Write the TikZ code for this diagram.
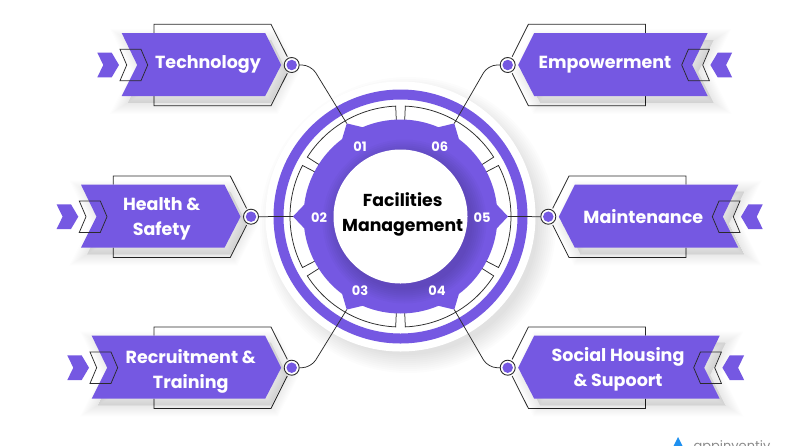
\documentclass[tikz,border=0pt]{standalone}
\usepackage{fontspec}
\setmainfont{Poppins}
\usetikzlibrary{calc,positioning}
\definecolor{fmPurple}{HTML}{7558E2}
\definecolor{fmLine}{HTML}{2B2B2B}
\definecolor{fmBlue}{HTML}{1E90F0}
\definecolor{fmGray}{HTML}{8A8A8A}

\begin{document}
\begin{tikzpicture}[x=1pt,y=-1pt,
  tagbody/.style={insert path={(-170-\e,-32) -- (-26.5,-32) -- (-10.5,0) -- (-26.5,31)
                  -- (-170-\e,31) -- (-154.5-\e,0) -- cycle}},
  tagback/.style={draw=fmLine,line width=0.8pt,line join=miter},
  chev/.style={draw=fmLine,line width=0.75pt},
  solidchev/.style={fill=fmPurple},
  dotring/.style={circle,draw=fmLine,line width=0.9pt,fill=white,minimum size=15pt,inner sep=0pt},
  dotcore/.style={circle,fill=fmPurple,minimum size=10.5pt,inner sep=0pt},
  tagtext/.style={text=white,font=\fontsize{17.5}{25}\selectfont\bfseries,align=center},
  numtext/.style={text=white,font=\fontsize{13}{15}\selectfont\bfseries},
  hubtext/.style={text=black,font=\fontsize{17.3}{24.5}\selectfont\bfseries,align=center},
  wire/.style={draw=fmLine,line width=0.75pt,rounded corners=9pt}]

\useasboundingbox (0,0) rectangle (800,445);
\fill[white] (0,0) rectangle (800,445);

%% Hub halo and shadow
\foreach \w in {148,146,144,142,140,138,136,134,132,130}
  \fill[black,opacity=0.012] (408,225) circle[radius=\w];
\fill[white] (400.5,216.5) circle[radius=135];

%% Tags: dot position, side and extra length
\foreach \n/\dx/\dy/\s/\e in {1/291.7/65/1/0,2/251/216.7/1/0,3/291.7/367.7/1/30,
                              6/507.7/65/-1/30,5/548.3/216.7/-1/20,4/507.7/367.7/-1/42}{
  \begin{scope}[shift={(\dx,\dy)},xscale=\s]
    \draw[tagback] (-137.7,-32) -- (-137.7,-40.7) -- (-20.7,-40.7) -- (-4.4,-8.3);
    \draw[tagback] (-4.4,8.3) -- (-20.7,40.7) -- (-137.7,40.7) -- (-137.7,31);
    \foreach \w in {22,20,18,16,14,12,10,8,6,4,2}
      \path[shift={(\s*6,7)},fill=black,draw=black,opacity=0.007,line width=\w pt,tagbody];
    \path[fill=fmPurple,tagbody];
    \fill[solidchev] (-194.4-\e,-12.3) -- (-180-\e,-12.3) -- (-172.7-\e,0) -- (-180-\e,12.3)
      -- (-194.4-\e,12.3) -- (-188.4-\e,0) -- cycle;
    \draw[chev] (-171.7-\e,-15.7) -- (-150.7-\e,-15.7) -- (-144-\e,0) -- (-150.7-\e,15.7)
      -- (-171.7-\e,15.7) -- (-165-\e,0) -- cycle;
    \node[dotring] (dot\n) at (0,0) {};
    \node[dotcore] (core\n) at (0,0) {};
  \end{scope}
}

\begin{scope}[shift={(400.5,216.5)},y=1pt]
  \fill[fmPurple,even odd rule] (0,0) circle[radius=127] (0,0) circle[radius=117];
  %% Outline segments
  \foreach \a in {0,60,...,300}{
    \draw[chev] (\a-27.5:94) -- (\a-27.5:110.5)
      arc[start angle=\a-27.5,end angle=\a+27.5,radius=110.5] -- (\a+27.5:94);
  }
  %% Star body
  \fill[fmPurple] (-7:97) \foreach \a in {0,60,...,300}{
    -- (\a-7:97) -- (\a:107.5) -- (\a+7:97)
    arc[start angle=\a+7,end angle=\a+53,radius=97] } -- cycle;
  \foreach \a/\n in {120/1,180/2,240/3,300/4,0/5,60/6}
    \coordinate (tip\n) at (\a:107.5);
  \foreach \w in {82,80,78,76,74,72,70,68}
    \fill[black,opacity=0.02] (4,-5) circle[radius=\w];
  \fill[white] (0,0) circle[radius=67];
\end{scope}

\node[hubtext] (hub) at (402.7,214.5) {Facilities\\Management};

\node[numtext] (num1) at (360,147) {01};
\node[numtext] (num6) at (439.7,147) {06};
\node[numtext] (num2) at (319,217.5) {02};
\node[numtext] (num5) at (482,217.5) {05};
\node[numtext] (num3) at (360,291) {03};
\node[numtext] (num4) at (437,291) {04};

\node[tagtext] (tech)  at (208,64.5)   {Technology};
\node[tagtext] (safe)  at (161.7,219) {Health \&\\Safety};
\node[tagtext] (recr)  at (190.7,371.5) {Recruitment \&\\Training};
\node[tagtext] (empo)  at (605,64.5)   {Empowerment};
\node[tagtext] (main)  at (643.3,217) {Maintenance};
\node[tagtext] (soci)  at (618,369.5)  {Social Housing\\\& Supoort};

%% Wires
\coordinate (bend1) at (311,65);
\coordinate (bend3) at (311,367.7);
\coordinate (bend6) at (488,65);
\coordinate (bend4) at (488,367.7);
\draw[wire] (dot1) -- (bend1) -- (tip1);
\draw[wire] (dot3) -- (bend3) -- (tip3);
\draw[wire] (dot6) -- (bend6) -- (tip6);
\draw[wire] (dot4) -- (bend4) -- (tip4);
\draw[wire] (dot2) -- (tip2);
\draw[wire] (dot5) -- (tip5);

%% Logo, cut by the page edge
\fill[fmBlue] (678,437) -- (684,449) -- (672,449) -- cycle;
\node[text=fmGray,font=\fontsize{13}{15}\selectfont,anchor=west] (logo) at (690,447) {appinventiv};
\end{tikzpicture}
\end{document}
